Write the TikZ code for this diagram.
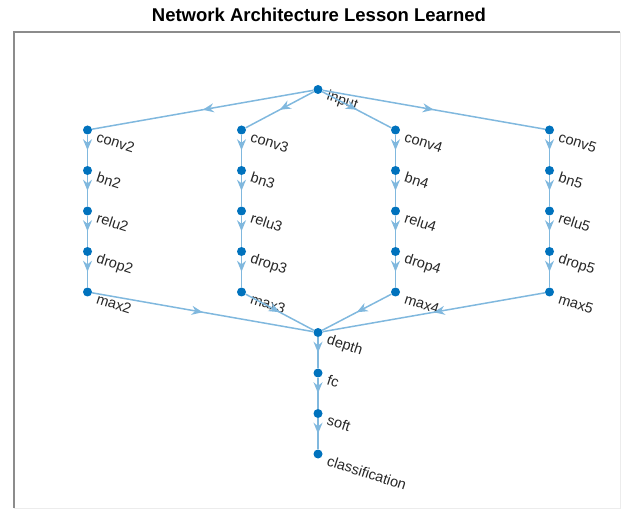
\documentclass[tikz,border=0pt]{standalone}
\usepackage{fontspec}
\setmainfont{Liberation Sans}
\usepackage{tikz}
\usetikzlibrary{arrows.meta,positioning,calc,decorations.markings}
\definecolor{mlblue}{RGB}{0,114,189}
\definecolor{mledge}{RGB}{128,184,222}
\definecolor{mlaxis}{RGB}{140,140,140}
\tikzset{
  dot/.style={circle, fill=mlblue, inner sep=0pt, minimum size=9pt},
  lbl/.style={anchor=base west, rotate=-18, inner sep=0pt,
    text=black!85, font=\fontsize{14.5}{16}\selectfont},
  edge/.style={draw=mledge, color=mledge, line width=1.5pt, postaction={decorate},
    decoration={markings, mark=at position 0.5 with {\arrow{Stealth[length=11pt,width=9pt]}}}},
  ttl/.style={font=\bfseries\fontsize{18.5}{20}\selectfont},
}

\begin{document}
\begin{tikzpicture}[x=1pt, y=-1pt, node distance=40.5pt, on grid]
  \useasboundingbox (0,0) rectangle (621,510);
  % axes frame
  \draw[gray!15, line width=1pt] (620,32) -- (620,508) -- (14,508);
  \draw[mlaxis, line width=1.6pt] (14,508) -- (14,32) -- (620,32);
  \node[ttl] (title) at (319,14.5) {Network Architecture Lesson Learned};

  \node[dot] (input) at (318,89.5) {};
  % branch 2
  \node[dot] (conv2) at (87.5,130) {};
  \node[dot, below=of conv2] (bn2) {};
  \node[dot, below=of bn2] (relu2) {};
  \node[dot, below=of relu2] (drop2) {};
  \node[dot, below=of drop2] (max2) {};
  % branch 3
  \node[dot] (conv3) at (241.5,130) {};
  \node[dot, below=of conv3] (bn3) {};
  \node[dot, below=of bn3] (relu3) {};
  \node[dot, below=of relu3] (drop3) {};
  \node[dot, below=of drop3] (max3) {};
  % branch 4
  \node[dot] (conv4) at (395.5,130) {};
  \node[dot, below=of conv4] (bn4) {};
  \node[dot, below=of bn4] (relu4) {};
  \node[dot, below=of relu4] (drop4) {};
  \node[dot, below=of drop4] (max4) {};
  % branch 5
  \node[dot] (conv5) at (549.5,130) {};
  \node[dot, below=of conv5] (bn5) {};
  \node[dot, below=of bn5] (relu5) {};
  \node[dot, below=of relu5] (drop5) {};
  \node[dot, below=of drop5] (max5) {};
  % tail
  \node[dot] (depth) at (318,332.5) {};
  \node[dot, below=of depth] (fc) {};
  \node[dot, below=of fc] (soft) {};
  \node[dot, below=of soft] (class) {};

  % labels
  \node[lbl] (input-t) at ($(input)+(8,10)$) {input};
  \node[lbl] (conv2-t) at ($(conv2)+(8,11)$) {conv2};
  \node[lbl] (bn2-t) at ($(bn2)+(8,11)$) {bn2};
  \node[lbl] (relu2-t) at ($(relu2)+(8,11)$) {relu2};
  \node[lbl] (drop2-t) at ($(drop2)+(8,11)$) {drop2};
  \node[lbl] (max2-t) at ($(max2)+(8,11)$) {max2};
  \node[lbl] (conv3-t) at ($(conv3)+(8,11)$) {conv3};
  \node[lbl] (bn3-t) at ($(bn3)+(8,11)$) {bn3};
  \node[lbl] (relu3-t) at ($(relu3)+(8,11)$) {relu3};
  \node[lbl] (drop3-t) at ($(drop3)+(8,11)$) {drop3};
  \node[lbl] (max3-t) at ($(max3)+(8,11)$) {max3};
  \node[lbl] (conv4-t) at ($(conv4)+(8,11)$) {conv4};
  \node[lbl] (bn4-t) at ($(bn4)+(8,11)$) {bn4};
  \node[lbl] (relu4-t) at ($(relu4)+(8,11)$) {relu4};
  \node[lbl] (drop4-t) at ($(drop4)+(8,11)$) {drop4};
  \node[lbl] (max4-t) at ($(max4)+(8,11)$) {max4};
  \node[lbl] (conv5-t) at ($(conv5)+(8,11)$) {conv5};
  \node[lbl] (bn5-t) at ($(bn5)+(8,11)$) {bn5};
  \node[lbl] (relu5-t) at ($(relu5)+(8,11)$) {relu5};
  \node[lbl] (drop5-t) at ($(drop5)+(8,11)$) {drop5};
  \node[lbl] (max5-t) at ($(max5)+(8,11)$) {max5};
  \node[lbl] (depth-t) at ($(depth)+(8,11)$) {depth};
  \node[lbl] (fc-t) at ($(fc)+(8,11)$) {fc};
  \node[lbl] (soft-t) at ($(soft)+(8,11)$) {soft};
  \node[lbl] (class-t) at ($(class)+(8,11)$) {classification};

  \draw[edge] (input) -- (conv2);
  \draw[edge] (input) -- (conv3);
  \draw[edge] (input) -- (conv4);
  \draw[edge] (input) -- (conv5);
  \draw[edge] (conv2) -- (bn2);
  \draw[edge] (bn2) -- (relu2);
  \draw[edge] (relu2) -- (drop2);
  \draw[edge] (drop2) -- (max2);
  \draw[edge] (conv3) -- (bn3);
  \draw[edge] (bn3) -- (relu3);
  \draw[edge] (relu3) -- (drop3);
  \draw[edge] (drop3) -- (max3);
  \draw[edge] (conv4) -- (bn4);
  \draw[edge] (bn4) -- (relu4);
  \draw[edge] (relu4) -- (drop4);
  \draw[edge] (drop4) -- (max4);
  \draw[edge] (conv5) -- (bn5);
  \draw[edge] (bn5) -- (relu5);
  \draw[edge] (relu5) -- (drop5);
  \draw[edge] (drop5) -- (max5);
  \draw[edge] (max2) -- (depth);
  \draw[edge] (max3) -- (depth);
  \draw[edge] (max4) -- (depth);
  \draw[edge] (max5) -- (depth);
  \draw[edge] (depth) -- (fc);
  \draw[edge] (fc) -- (soft);
  \draw[edge] (soft) -- (class);
\end{tikzpicture}
\end{document}
